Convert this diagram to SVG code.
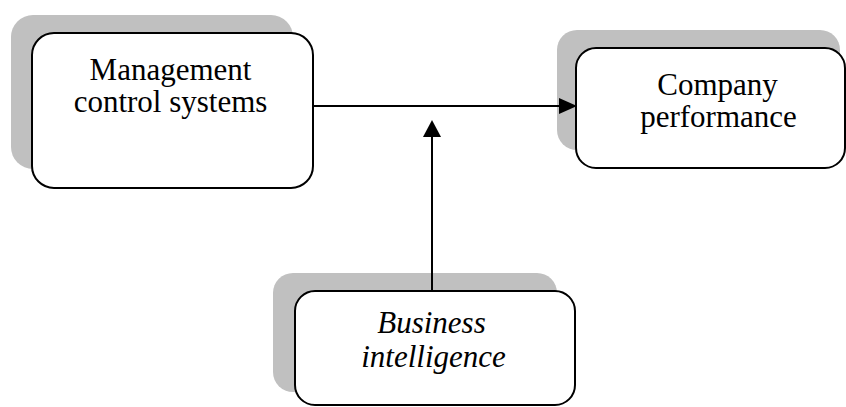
<svg xmlns="http://www.w3.org/2000/svg" width="846" height="407" viewBox="0 0 846 407">
  <style>
    .shadow { fill: #c0c0c0; stroke: none; }
    .box { fill: #ffffff; stroke: #000000; stroke-width: 2; }
    .lbl { font-family: "Liberation Serif", "Times New Roman", serif; font-size: 31px; fill: #000000; text-anchor: middle; }
    .it { font-style: italic; }
    .conn { stroke: #000000; stroke-width: 2; fill: none; }
  </style>
  <rect width="846" height="407" fill="#ffffff"/>

  <g id="mcs">
    <rect class="shadow" x="11" y="15" width="282" height="154" rx="22" ry="22"/>
    <rect class="box" x="32" y="33" width="281" height="155" rx="22" ry="22"/>
    <text class="lbl" x="170.5" y="80">Management</text>
    <text class="lbl" x="170.5" y="112">control systems</text>
  </g>

  <g id="performance">
    <rect class="shadow" x="557" y="30" width="283" height="120" rx="20" ry="20"/>
    <rect class="box" x="576" y="48" width="269" height="120" rx="20" ry="20"/>
    <text class="lbl" x="717.5" y="95">Company</text>
    <text class="lbl" x="718.5" y="127">performance</text>
  </g>

  <g id="bi">
    <rect class="shadow" x="273" y="273" width="284" height="119" rx="20" ry="20"/>
    <rect class="box" x="295" y="291" width="280" height="114" rx="20" ry="20"/>
    <text class="lbl it" x="431.5" y="333">Business</text>
    <text class="lbl it" x="433.5" y="367">intelligence</text>
  </g>

  <g id="connectors">
    <line class="conn" x1="313" y1="106" x2="560" y2="106"/>
    <path d="M559,98 L577,106 L559,114 z" fill="#000000"/>
    <line class="conn" x1="432" y1="291" x2="432" y2="136"/>
    <path d="M423,137 L432,120 L441,137 z" fill="#000000"/>
  </g>
</svg>
